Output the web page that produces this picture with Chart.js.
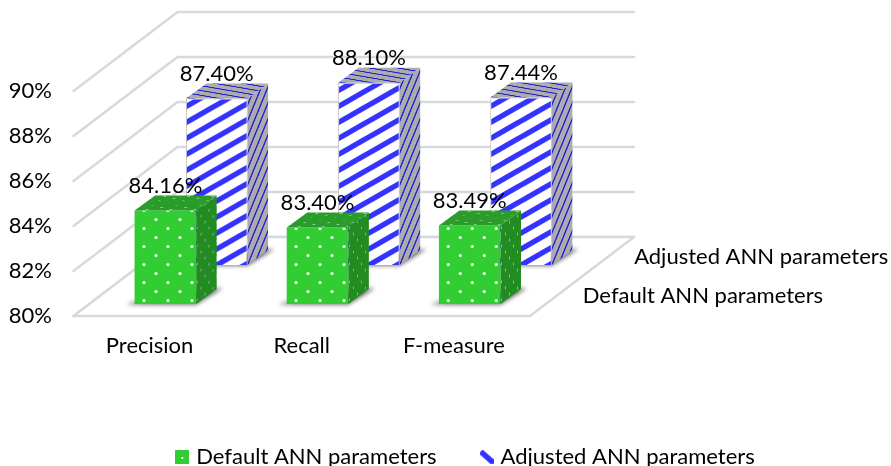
<!DOCTYPE html>
<html>
<head>
<meta charset="utf-8">
<title>ANN parameters</title>
<style>
  html, body { margin: 0; padding: 0; background: #fff; }
  #wrap { width: 891px; height: 466px; overflow: hidden; }
</style>
<script src="https://cdn.jsdelivr.net/npm/chart.js@4/dist/chart.umd.js"></script>
</head>
<body>
<div id="wrap"><canvas id="myChart" width="891" height="466"></canvas></div>
<script>
const categories = ['Precision', 'Recall', 'F-measure'];
const seriesNames = ['Default ANN parameters', 'Adjusted ANN parameters'];
const defaultValues = [84.16, 83.40, 83.49];
const adjustedValues = [87.40, 88.10, 87.44];
const valueTicks = [80, 82, 84, 86, 88, 90];

// Oblique projection of the 3D box: how far the floor recedes, and how deep each bar is
const floorDepth = { dx: 104, dy: 79 };
const barDepth = { dx: 20.5, dy: 15 };
// how far along the floor each series stands (same order as the datasets)
const seriesDepth = [12 / 79, 51 / 79];
const FONT = 'Lato, sans-serif';
const FONT_SIZE = 22;
const TEXT = '#000';
const GRID = '#d8d9de';
const LEGEND_GAP = 47;

function makeTile(w, h, paint) {
  const c = document.createElement('canvas');
  c.width = w;
  c.height = h;
  paint(c.getContext('2d'));
  return c;
}

function dotTile(base, dot) {
  return makeTile(24, 18, (g) => {
    g.fillStyle = base;
    g.fillRect(0, 0, 24, 18);
    g.fillStyle = dot;
    [[2.5, 14.5], [14.5, 5.5]].forEach(([x, y]) => {
      g.beginPath();
      g.arc(x, y, 1.5, 0, Math.PI * 2);
      g.fill();
    });
  });
}

function stripeTile(base, stripe, width) {
  const w = 28;
  const h = 16;
  return makeTile(w, h, (g) => {
    g.fillStyle = base;
    g.fillRect(0, 0, w, h);
    g.strokeStyle = stripe;
    g.lineWidth = width;
    for (let k = -1; k <= 1; k++) {
      g.beginPath();
      g.moveTo(-4, h + k * h + 4 * h / w);
      g.lineTo(w + 4, k * h - 4 * h / w);
      g.stroke();
    }
  });
}

const faces = [
  { front: dotTile('#32cd32', '#fff'), side: dotTile('#228b22', '#a9bfa9'), top: dotTile('#2a9c2a', '#9cc79c'), shadow: 'rgba(60,60,60,0.8)' },
  { front: stripeTile('#fff', '#3333ff', 5.4), side: stripeTile('#acacb0', '#2222cc', 3.2), top: stripeTile('#acacb0', '#2222cc', 3.2), shadow: 'rgba(60,60,60,0.8)' },
];

const legendIcons = [
  makeTile(14, 14, (g) => {
    g.fillStyle = '#32cd32';
    g.fillRect(0, 0, 14, 14);
    g.fillStyle = '#fff';
    g.fillRect(6, 7, 2, 2);
  }),
  makeTile(14, 14, (g) => {
    g.strokeStyle = '#3333ff';
    g.lineWidth = 5.5;
    g.beginPath();
    g.moveTo(1, 1.5);
    g.lineTo(14, 13);
    g.stroke();
  }),
];

// Each front face gets its own copy of the texture, anchored on the bar it fills
function frontPattern(context, seriesIndex) {
  const { chart, dataIndex } = context;
  const p = chart.ctx.createPattern(faces[seriesIndex].front, 'repeat');
  if (chart.scales.x && chart.scales.y) {
    const tx = chart.scales.x.getPixelForValue(dataIndex);
    const ty = chart.scales.y.getPixelForValue(valueTicks[0]);
    p.setTransform(new DOMMatrix().translate(tx, ty));
  }
  return p;
}

function fillFace(ctx, tile, m, x, y, w, h) {
  ctx.save();
  ctx.transform(m[0], m[1], m[2], m[3], m[4], m[5]);
  ctx.fillStyle = ctx.createPattern(tile, 'repeat');
  ctx.fillRect(x, y, w, h);
  ctx.restore();
}

const box3d = {
  id: 'box3d',

  // keep the legend centred under the floor rather than the whole canvas
  afterLayout(chart) {
    const legend = chart.legend;
    const height = legend.bottom - legend.top;
    legend.left += 21.5;
    legend.right += 21.5;
    legend.top = 457 - LEGEND_GAP - FONT_SIZE / 2;
    legend.bottom = legend.top + height;
  },

  // floor and walls
  beforeDatasetsDraw(chart) {
    const { ctx, chartArea: a, scales: { y } } = chart;
    const { dx, dy } = floorDepth;
    ctx.save();
    ctx.lineJoin = 'round';
    ctx.lineCap = 'round';
    ctx.strokeStyle = GRID;
    ctx.lineWidth = 2.6;
    valueTicks.forEach((v) => {
      const py = y.getPixelForValue(v);
      ctx.beginPath();
      ctx.moveTo(a.left, py);
      ctx.lineTo(a.left + dx, py - dy);
      ctx.lineTo(a.right + dx, py - dy);
      ctx.stroke();
    });
    const base = y.getPixelForValue(valueTicks[0]);
    ctx.beginPath();
    ctx.moveTo(a.left, base);
    ctx.lineTo(a.left + dx, base - dy);
    ctx.lineTo(a.right + dx, base - dy);
    ctx.lineTo(a.right, base);
    ctx.closePath();
    ctx.fillStyle = '#fff';
    ctx.fill();
    ctx.stroke();
    ctx.restore();
  },

  // Slide the series back along the floor; the shadow goes down first
  beforeDatasetDraw(chart, args) {
    const { ctx } = chart;
    const f = seriesDepth[args.index];
    ctx.save();
    ctx.translate(floorDepth.dx * f, -floorDepth.dy * f);
    chart.getDatasetMeta(args.index).data.forEach((bar) => {
      const left = bar.x - bar.width / 2;
      const right = bar.x + bar.width / 2;
      ctx.save();
      ctx.filter = 'blur(2px)';
      ctx.fillStyle = faces[args.index].shadow;
      ctx.beginPath();
      ctx.moveTo(left - 9, bar.base + 0.5);
      ctx.lineTo(right, bar.base + 0.5);
      ctx.lineTo(right + barDepth.dx + 6, bar.base - barDepth.dy - 1);
      ctx.lineTo(right + barDepth.dx - 4, bar.base - barDepth.dy);
      ctx.lineTo(left, bar.base - 2);
      ctx.closePath();
      ctx.fill();
      ctx.restore();
    });
  },

  // Side and top faces, then undo the slide
  afterDatasetDraw(chart, args) {
    const { ctx } = chart;
    const face = faces[args.index];
    chart.getDatasetMeta(args.index).data.forEach((bar) => {
      const w = bar.width;
      const right = bar.x + w / 2;
      const h = bar.base - bar.y;
      const { dx, dy } = barDepth;
      fillFace(ctx, face.side, [dx / w, -dy / w, 0, 1, right, bar.base], 0, -h, w, h);
      fillFace(ctx, face.top, [-1, 0, -dx / w, dy / w, right, bar.y], 0, -w, w, w);
    });
    ctx.restore();
  },

  // Value labels and the series names along the depth axis sit on top of everything
  afterDatasetsDraw(chart) {
    const { ctx, chartArea: a, scales: { y } } = chart;
    ctx.save();
    ctx.font = `${FONT_SIZE}px ${FONT}`;
    ctx.fillStyle = TEXT;
    ctx.textBaseline = 'middle';
    chart.data.datasets.forEach((ds, i) => {
      const f = seriesDepth[i];
      const sx = floorDepth.dx * f;
      const sy = floorDepth.dy * f;
      ctx.textAlign = 'center';
      chart.getDatasetMeta(i).data.forEach((bar, j) => {
        const label = ds.data[j].toFixed(2) + '%';
        ctx.fillText(label, bar.x + sx, bar.y - sy - barDepth.dy - 9.5);
      });
      ctx.textAlign = 'left';
      ctx.fillText(ds.label, a.right + sx + 37, y.getPixelForValue(valueTicks[0]) - sy - 8);
    });
    ctx.restore();
  },
};

const barShape = { grouped: false, categoryPercentage: 1, barPercentage: 0.405, base: valueTicks[0] };

new Chart(document.getElementById('myChart'), {
  type: 'bar',
  data: {
    labels: categories,
    datasets: [
      { ...barShape, label: seriesNames[0], data: defaultValues, borderWidth: 0, backgroundColor: (c) => frontPattern(c, 0) },
      { ...barShape, label: seriesNames[1], data: adjustedValues, borderWidth: 1, borderColor: '#bdbdc2', backgroundColor: (c) => frontPattern(c, 1) },
    ],
  },
  plugins: [box3d],
  options: {
    responsive: false,
    animation: false,
    layout: { padding: { top: 91, left: 0, right: 0, bottom: 0 } },
    scales: {
      x: {
        grid: { display: false, drawTicks: false },
        border: { display: false },
        ticks: { color: TEXT, padding: 17, maxRotation: 0, font: { family: FONT, size: FONT_SIZE } },
        afterFit: (s) => { s.height = 466 - 316 - s.chart.legend.height; },
      },
      y: {
        min: valueTicks[0],
        max: valueTicks[valueTicks.length - 1],
        beginAtZero: false,
        grid: { display: false, drawTicks: false },
        border: { display: false },
        ticks: {
          stepSize: 2,
          color: TEXT,
          padding: 21.5,
          font: { family: FONT, size: FONT_SIZE },
          callback: (v) => v + '%',
        },
        afterFit: (s) => { s.width = 73.5; },
      },
      // empty axis that only holds the room for the floor's far corner and the series names
      gutter: {
        type: 'linear',
        position: 'right',
        grid: { display: false, drawTicks: false },
        border: { display: false },
        ticks: { display: false },
        afterFit: (s) => { s.width = 361; },
      },
    },
    plugins: {
      tooltip: { enabled: false },
      legend: {
        position: 'bottom',
        labels: {
          color: TEXT,
          font: { family: FONT, size: FONT_SIZE },
          usePointStyle: true,
          boxWidth: 6,
          boxHeight: 14,
          padding: LEGEND_GAP,
          generateLabels: (chart) => chart.data.datasets.map((ds, i) => ({
            text: ds.label,
            datasetIndex: i,
            pointStyle: legendIcons[i],
            fontColor: TEXT,
            hidden: false,
            lineWidth: 0,
          })),
        },
      },
    },
  },
});
</script>
</body>
</html>
